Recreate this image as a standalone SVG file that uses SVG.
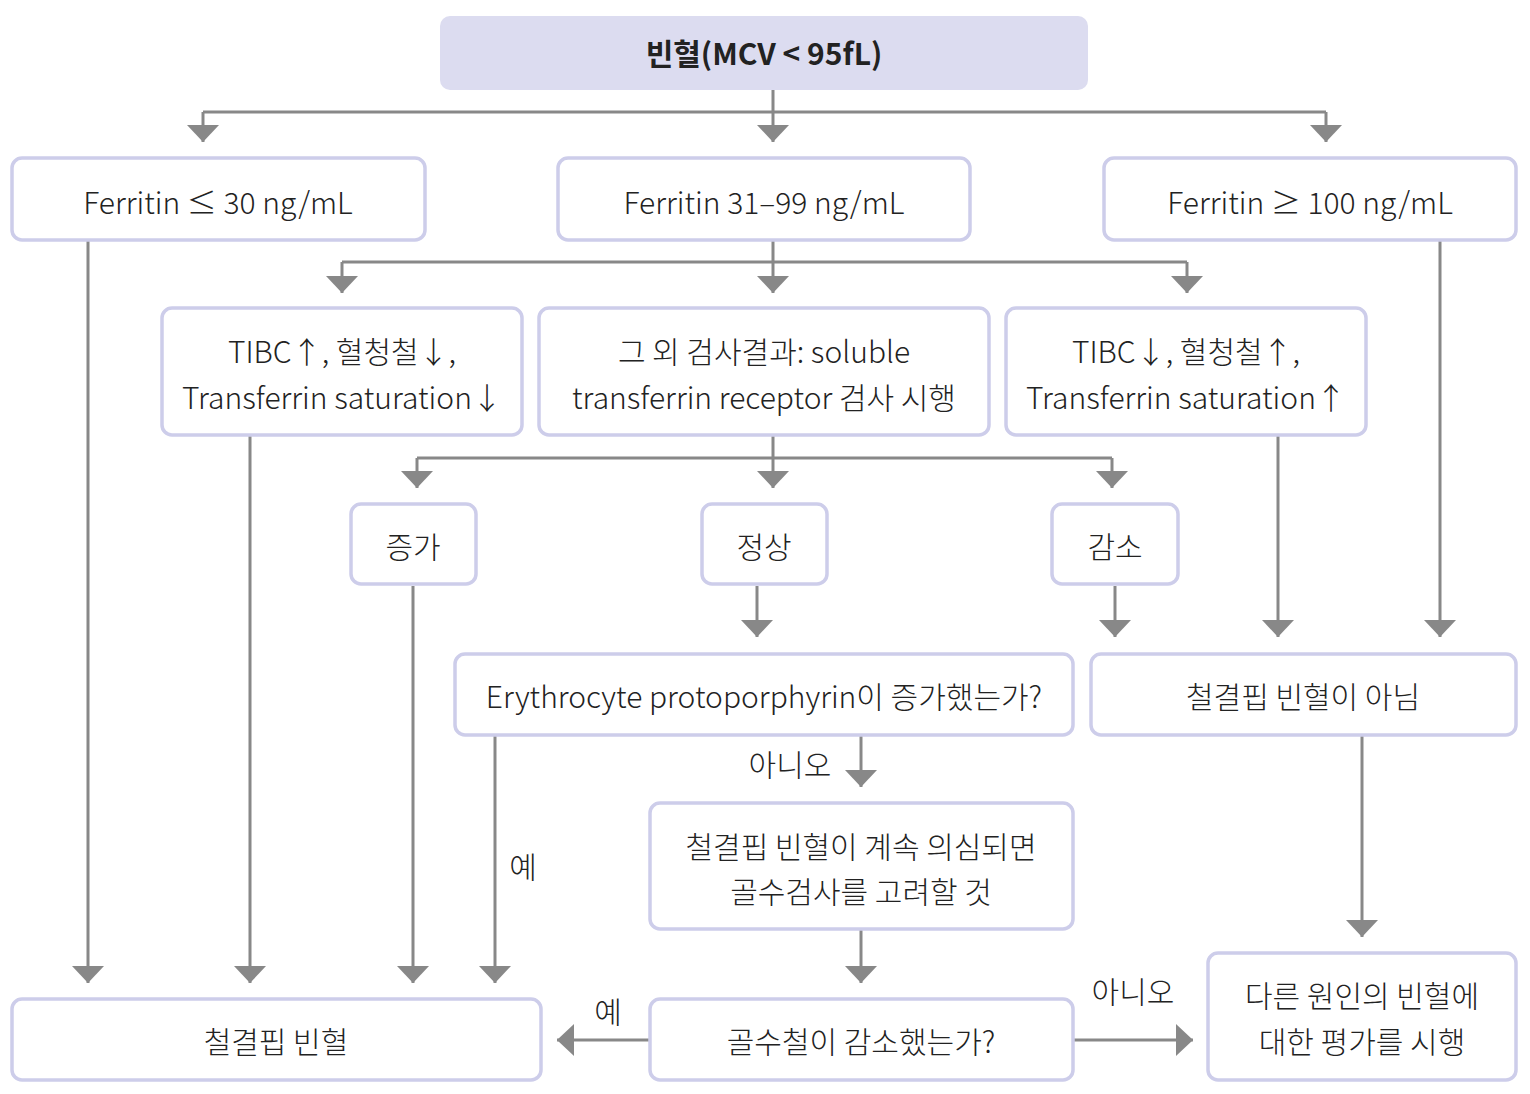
<svg xmlns="http://www.w3.org/2000/svg" width="1530" height="1094" viewBox="0 0 1530 1094">
<style>
.b{fill:#fff;stroke:#cdcdea;stroke-width:3.5}
.t{font-family:"Noto Sans CJK KR","Liberation Sans",sans-serif;font-size:30px;font-weight:300;fill:#222;text-anchor:middle;dominant-baseline:central}
.c{fill:none;stroke:#888;stroke-width:3}
</style>
<defs>
<marker id="a" viewBox="0 0 17 32" markerWidth="17" markerHeight="32" refX="17" refY="16" orient="auto" markerUnits="userSpaceOnUse">
<path d="M0,0 L17,16 L0,32 Z" fill="#888"/>
</marker>
</defs>
<g id="connectors">
<path class="c" d="M773,90 V112 M203,112 H1326"/>
<path class="c" d="M203,112 V142" marker-end="url(#a)"/>
<path class="c" d="M773,112 V142" marker-end="url(#a)"/>
<path class="c" d="M1326,112 V142" marker-end="url(#a)"/>
<path class="c" d="M88,240 V983" marker-end="url(#a)"/>
<path class="c" d="M773,240 V262 M342,262 H1187"/>
<path class="c" d="M342,262 V293" marker-end="url(#a)"/>
<path class="c" d="M773,262 V293" marker-end="url(#a)"/>
<path class="c" d="M1187,262 V293" marker-end="url(#a)"/>
<path class="c" d="M1440,240 V637" marker-end="url(#a)"/>
<path class="c" d="M250,435 V983" marker-end="url(#a)"/>
<path class="c" d="M773,435 V458 M417,458 H1112"/>
<path class="c" d="M417,458 V488" marker-end="url(#a)"/>
<path class="c" d="M773,458 V488" marker-end="url(#a)"/>
<path class="c" d="M1112,458 V488" marker-end="url(#a)"/>
<path class="c" d="M1278,435 V637" marker-end="url(#a)"/>
<path class="c" d="M413,586 V983" marker-end="url(#a)"/>
<path class="c" d="M757,586 V637" marker-end="url(#a)"/>
<path class="c" d="M1115,586 V637" marker-end="url(#a)"/>
<path class="c" d="M495,736 V983" marker-end="url(#a)"/>
<path class="c" d="M861,736 V787" marker-end="url(#a)"/>
<path class="c" d="M1362,736 V937" marker-end="url(#a)"/>
<path class="c" d="M861,930 V983" marker-end="url(#a)"/>
<path class="c" d="M649,1040 H557" marker-end="url(#a)"/>
<path class="c" d="M1074,1040 H1193" marker-end="url(#a)"/>
<text class="t" x="523" y="865">예</text>
<text class="t" x="790" y="763">아니오</text>
<text class="t" x="608" y="1010">예</text>
<text class="t" x="1133" y="990">아니오</text>
</g>
<g id="n0"><rect x="440" y="16" width="648" height="74" rx="10" fill="#dcdcf0"/><text class="t" x="764" y="52" font-weight="bold" style="font-weight:700">빈혈(MCV &lt; 95fL)</text></g>
<g id="n1"><rect class="b" x="12" y="158" width="413" height="82" rx="10"/><text class="t" x="218" y="201">Ferritin ≤ 30 ng/mL</text></g>
<g id="n2"><rect class="b" x="558" y="158" width="412" height="82" rx="10"/><text class="t" x="764" y="201">Ferritin 31–99 ng/mL</text></g>
<g id="n3"><rect class="b" x="1104" y="158" width="412" height="82" rx="10"/><text class="t" x="1310" y="201">Ferritin ≥ 100 ng/mL</text></g>
<g id="n4"><rect class="b" x="162" y="308" width="360" height="127" rx="10"/><text class="t" x="342" y="350">TIBC↑, 혈청철↓,</text><text class="t" x="342" y="396">Transferrin saturation↓</text></g>
<g id="n5"><rect class="b" x="539" y="308" width="450" height="127" rx="10"/><text class="t" x="764" y="350">그 외 검사결과: soluble</text><text class="t" x="764" y="396">transferrin receptor 검사 시행</text></g>
<g id="n6"><rect class="b" x="1006" y="308" width="360" height="127" rx="10"/><text class="t" x="1186" y="350">TIBC↓, 혈청철↑,</text><text class="t" x="1186" y="396">Transferrin saturation↑</text></g>
<g id="n7"><rect class="b" x="351" y="504" width="125" height="80" rx="10"/><text class="t" x="413" y="545">증가</text></g>
<g id="n8"><rect class="b" x="702" y="504" width="125" height="80" rx="10"/><text class="t" x="764" y="545">정상</text></g>
<g id="n9"><rect class="b" x="1052" y="504" width="126" height="80" rx="10"/><text class="t" x="1115" y="545">감소</text></g>
<g id="n10"><rect class="b" x="455" y="654" width="618" height="81" rx="10"/><text class="t" x="764" y="695">Erythrocyte protoporphyrin이 증가했는가?</text></g>
<g id="n11"><rect class="b" x="1091" y="654" width="425" height="81" rx="10"/><text class="t" x="1303" y="695">철결핍 빈혈이 아님</text></g>
<g id="n12"><rect class="b" x="650" y="803" width="423" height="126" rx="10"/><text class="t" x="861" y="845">철결핍 빈혈이 계속 의심되면</text><text class="t" x="861" y="890">골수검사를 고려할 것</text></g>
<g id="n13"><rect class="b" x="12" y="999" width="529" height="81" rx="10"/><text class="t" x="276" y="1040">철결핍 빈혈</text></g>
<g id="n14"><rect class="b" x="650" y="999" width="423" height="81" rx="10"/><text class="t" x="861" y="1040">골수철이 감소했는가?</text></g>
<g id="n15"><rect class="b" x="1208" y="953" width="308" height="127" rx="10"/><text class="t" x="1362" y="994">다른 원인의 빈혈에</text><text class="t" x="1362" y="1040">대한 평가를 시행</text></g>
</svg>
